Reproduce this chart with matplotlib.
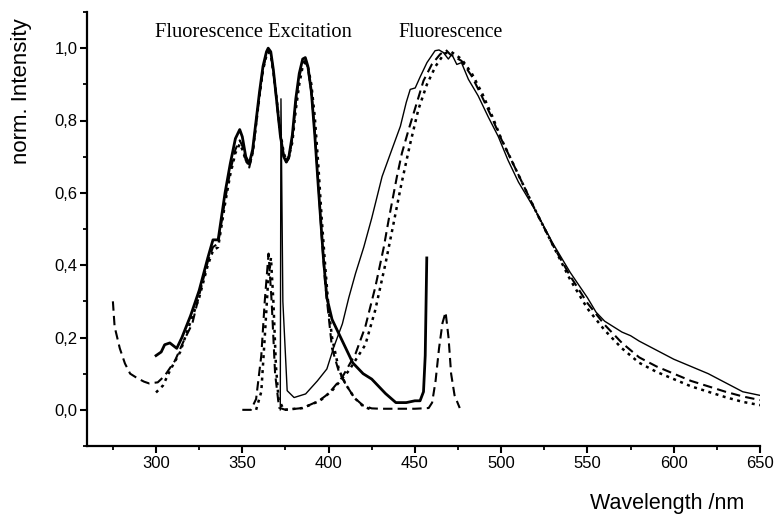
import matplotlib
matplotlib.use("Agg")
import matplotlib.pyplot as plt
from matplotlib.ticker import FixedLocator, FixedFormatter

# ---------------- data ----------------
# Excitation spectra
exc_solid_x = [300, 303, 305, 308, 312, 315, 320, 325, 330, 333, 336, 340, 343, 346, 348.5, 350, 352, 354,
               356, 358, 360, 362, 364, 365, 366.5, 368, 370, 372, 374, 375.5, 377, 379, 381, 383, 385,
               386.5, 388, 390, 392, 394, 397, 399, 402, 406, 410, 414,
               420, 425, 430, 433, 439, 445, 450, 453, 455, 456, 456.9]
exc_solid_y = [0.15, 0.16, 0.18, 0.185, 0.17, 0.2, 0.26, 0.33, 0.42, 0.47, 0.47, 0.6, 0.68, 0.75, 0.775, 0.755, 0.7, 0.68,
               0.72, 0.8, 0.88, 0.95, 0.99, 1.0, 0.99, 0.94, 0.85, 0.76, 0.7, 0.685, 0.7, 0.76, 0.86, 0.93, 0.97,
               0.974, 0.95, 0.88, 0.76, 0.62, 0.42, 0.31, 0.25, 0.21, 0.17, 0.13,
               0.1, 0.085, 0.06, 0.045, 0.02, 0.02, 0.025, 0.025, 0.05, 0.15, 0.42]

exc_dash_x = [275, 276, 279, 282, 285, 289, 293, 296, 301, 305, 311, 316, 321, 325, 330, 333, 336, 340,
              343, 346, 348.5, 350, 352, 354, 356, 358, 360, 362, 364, 365, 366.5, 368, 370, 372, 374,
              375.5, 377, 379, 381, 383, 385, 386.5, 388, 390, 392, 394, 396, 398, 402, 406,
              410, 415, 420, 425, 430, 440, 450, 458, 460, 462, 464, 466, 467.8, 469.5, 471, 473, 476]
exc_dash_y = [0.30, 0.23, 0.17, 0.128, 0.1, 0.088, 0.078, 0.073, 0.076, 0.094, 0.136, 0.19, 0.238, 0.317, 0.41, 0.45, 0.46, 0.58,
              0.66, 0.72, 0.745, 0.73, 0.69, 0.67, 0.71, 0.79, 0.87, 0.94, 0.985, 0.995, 0.985, 0.935, 0.85, 0.76, 0.7,
              0.685, 0.695, 0.75, 0.85, 0.92, 0.96, 0.965, 0.945, 0.88, 0.77, 0.63, 0.48, 0.35, 0.17, 0.105,
              0.07, 0.033, 0.012, 0.004, 0.003, 0.003, 0.003, 0.005, 0.02, 0.08, 0.17, 0.24, 0.27, 0.2, 0.1, 0.04, 0.005]

exc_dot_x = [300, 304, 308, 314, 319, 325, 330, 333, 336, 340, 343, 346, 348.5, 350, 352, 354, 356, 358,
             360, 362, 364, 365, 366.5, 368, 370, 372, 374, 375.5, 377, 379, 381, 383, 385, 386.5, 388,
             390, 392, 394, 396, 398, 400, 402, 406, 410, 415, 420, 425]
exc_dot_y = [0.048, 0.067, 0.108, 0.16, 0.23, 0.31, 0.40, 0.44, 0.45, 0.57, 0.65, 0.71, 0.735, 0.72, 0.69, 0.675, 0.71, 0.79,
             0.87, 0.94, 0.98, 0.99, 0.98, 0.935, 0.855, 0.77, 0.71, 0.69, 0.7, 0.74, 0.83, 0.9, 0.95, 0.96, 0.95,
             0.9, 0.81, 0.68, 0.53, 0.4, 0.28, 0.2, 0.11, 0.07, 0.033, 0.01, 0.0]

# Fluorescence (emission) spectra
em_solid_x = [372.0, 372.4, 373.5, 376, 380, 386.7, 393.5, 399, 403, 408, 411.7, 415.6, 420.4, 425, 431,
              436.7, 441.6, 445, 447.3, 450.2, 453, 457, 461.7, 464, 466.5, 469.4, 471.4, 474.3, 477, 481,
              486.7, 492.5, 498.3, 504, 510, 520, 530, 540, 550, 555, 560, 565, 570, 575, 580, 590,
              600, 610, 620, 630, 640, 650]
em_solid_y = [0.0, 0.86, 0.3, 0.053, 0.034, 0.044, 0.08, 0.113, 0.173, 0.238, 0.31, 0.377, 0.45, 0.53, 0.645,
              0.72, 0.784, 0.85, 0.886, 0.89, 0.92, 0.96, 0.993, 0.995, 0.988, 0.97, 0.983, 0.955, 0.96, 0.914,
              0.868, 0.81, 0.756, 0.69, 0.63, 0.55, 0.46, 0.38, 0.31, 0.27, 0.245, 0.23, 0.215, 0.205, 0.19, 0.165,
              0.14, 0.12, 0.1, 0.075, 0.05, 0.04]

em_dash_x = [350, 355, 358, 361, 363, 365.2, 367, 369, 371.3, 375, 385, 394.4, 400, 407.9, 415.6, 421.3,
             427.1, 432, 434.8, 439.6, 442.5, 446.4, 451.2, 455, 459.8, 464.6, 468, 470.4, 477, 482.9,
             488.7, 494.4, 500.2, 510, 520, 530, 540, 550, 560, 570, 580, 590, 600, 610, 620, 630, 640, 650]
em_dash_y = [0.0, 0.0, 0.03, 0.15, 0.3, 0.432, 0.3, 0.1, 0.006, 0.0, 0.005, 0.025, 0.045, 0.09, 0.155, 0.23,
             0.34, 0.45, 0.525, 0.645, 0.71, 0.775, 0.85, 0.91, 0.955, 0.983, 0.995, 0.983, 0.965, 0.923,
             0.868, 0.81, 0.747, 0.65, 0.55, 0.455, 0.37, 0.295, 0.235, 0.185, 0.145, 0.12, 0.1, 0.08, 0.065, 0.05, 0.037, 0.027]

em_dot_x = [358, 361, 363, 365, 366.6, 368, 369.5, 371, 374, 385, 395, 402, 411.7, 421.3, 427, 433, 437,
            442, 447, 452, 457, 462, 467, 471, 477, 483, 489, 495, 500, 510, 520, 530, 540, 550, 560, 570,
            580, 590, 600, 610, 620, 630, 640, 650]
em_dot_y = [0.0, 0.05, 0.2, 0.36, 0.42, 0.3, 0.12, 0.03, 0.0, 0.005, 0.025, 0.053, 0.108, 0.18, 0.275, 0.405, 0.5,
            0.62, 0.73, 0.83, 0.9, 0.95, 0.985, 0.99, 0.97, 0.93, 0.875, 0.81, 0.75, 0.65, 0.55, 0.455, 0.36, 0.28, 0.22, 0.17,
            0.13, 0.105, 0.085, 0.065, 0.05, 0.035, 0.022, 0.013]

y_ticks = [0.0, 0.2, 0.4, 0.6, 0.8, 1.0]
y_tick_labels = ["0,0", "0,2", "0,4", "0,6", "0,8", "1,0"]
y_minor = [-0.1, 0.1, 0.3, 0.5, 0.7, 0.9, 1.1]
x_ticks = [300, 350, 400, 450, 500, 550, 600, 650]
x_tick_labels = ["300", "350", "400", "450", "500", "550", "600", "650"]
x_minor = [275, 325, 375, 425, 475, 525, 575, 625]

# ---------------- figure ----------------
fig = plt.figure(figsize=(7.75, 5.18), dpi=100)
ax = fig.add_axes([87/775, 1 - 446/518, (760 - 87)/775, (446 - 12)/518])

dash = (0, (4.5, 2.5))
dot = (0, (1.2, 1.8))

ax.plot(exc_solid_x, exc_solid_y, color="black", lw=2.0, solid_joinstyle="round")
ax.plot(exc_dash_x, exc_dash_y, color="black", lw=1.5, linestyle=dash)
ax.plot(exc_dot_x, exc_dot_y, color="black", lw=1.8, linestyle=dot)

ax.plot(em_solid_x, em_solid_y, color="black", lw=1.0)
ax.plot(em_dash_x, em_dash_y, color="black", lw=1.5, linestyle=dash)
ax.plot(em_dot_x, em_dot_y, color="black", lw=1.8, linestyle=dot)

ax.set_xlim(260, 650)
ax.set_ylim(-0.1, 1.1)

for s in ["top", "right"]:
    ax.spines[s].set_visible(False)
for s in ["left", "bottom"]:
    ax.spines[s].set_linewidth(1.6)

ax.yaxis.set_major_locator(FixedLocator(y_ticks))
ax.yaxis.set_major_formatter(FixedFormatter(y_tick_labels))
ax.yaxis.set_minor_locator(FixedLocator(y_minor))
ax.xaxis.set_major_locator(FixedLocator(x_ticks))
ax.xaxis.set_major_formatter(FixedFormatter(x_tick_labels))
ax.xaxis.set_minor_locator(FixedLocator(x_minor))

tick_font = ["Liberation Sans Narrow", "Liberation Sans"]
ax.tick_params(axis="both", which="major", direction="out", length=5, width=1.5, pad=2, labelsize=12)
ax.tick_params(axis="both", which="minor", direction="out", length=3, width=1.3)
for lab in ax.get_xticklabels() + ax.get_yticklabels():
    lab.set_family(tick_font)

ax.text(356.5, 1.044, "Fluorescence Excitation", ha="center", va="center",
        fontsize=14.8, family=["Liberation Serif", "DejaVu Serif"])
ax.text(470.5, 1.044, "Fluorescence", ha="center", va="center",
        fontsize=14.2, family=["Liberation Serif", "DejaVu Serif"])

fig.text(22/775, 1 - 91/518, "norm. Intensity", rotation=90, ha="center", va="center",
         fontsize=16, family=["Liberation Sans", "DejaVu Sans"])
fig.text(667/775, 1 - 504/518, "Wavelength /nm", ha="center", va="center",
         fontsize=15.5, family=["Liberation Sans", "DejaVu Sans"])

fig.savefig("out.png", dpi=100)
